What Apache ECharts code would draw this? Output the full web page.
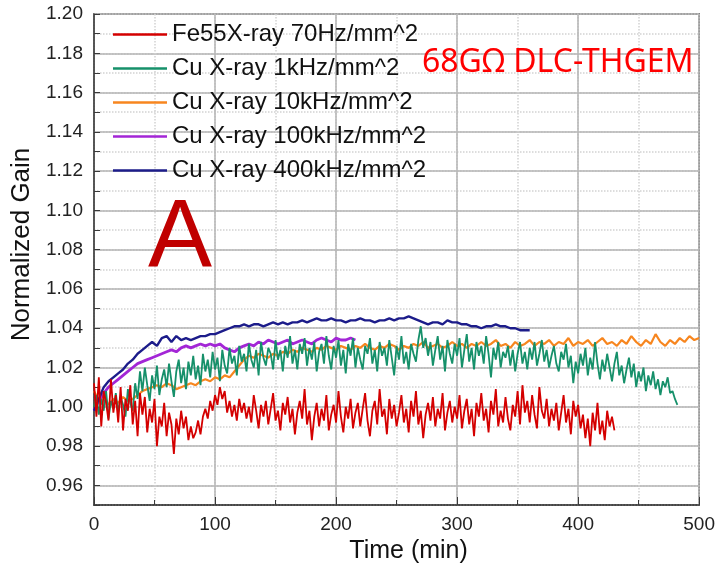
<!DOCTYPE html>
<html>
<head>
<meta charset="utf-8">
<title>Normalized Gain vs Time</title>
<script src="https://cdn.jsdelivr.net/npm/echarts@6/dist/echarts.min.js"></script>
<style>
    html, body { margin: 0; padding: 0; background: #fff; }
    #chart { width: 718px; height: 569px; }
</style>
</head>
<body>
<div id="chart"></div>
<script>
// 采样间隔 (min)
const fe55Step = 2;
const cu1kStep = 2;
const cu10kStep = 4;
const cu100kStep = 4;
const cu400kStep = 4;

const seriesNames = [
    'Fe55X-ray 70Hz/mm^2',
    'Cu X-ray 1kHz/mm^2',
    'Cu X-ray 10kHz/mm^2',
    'Cu X-ray 100kHz/mm^2',
    'Cu X-ray 400kHz/mm^2'
];
const seriesColors = ['#d40000', '#16906a', '#f7861f', '#a326d6', '#1c1c8a'];

// Fe55, t = 0..430
const fe55Gain = [
    1.012, 0.995, 1.015, 0.990, 1.008, 1.002, 0.993, 1.014, 0.997, 1.006,
    0.992, 1.010, 0.988, 1.004, 0.998, 1.011, 0.991, 1.003, 0.985, 1.007,
    0.996, 1.005, 0.987, 0.999, 0.992, 1.004, 0.980, 0.995, 0.990, 1.002,
    0.985, 0.997, 0.991, 0.976, 0.994, 0.986, 0.998, 0.989, 0.995, 0.983,
    0.990, 0.984, 0.987, 0.993, 0.986, 0.995, 0.999, 0.994, 1.003, 0.998,
    1.006, 1.001, 1.010, 1.004, 1.008, 0.997, 1.003, 0.995, 1.001, 0.993,
    1.004, 0.997, 1.002, 0.994, 1.000, 0.992, 1.006, 0.998, 0.989, 1.001,
    0.995, 1.003, 0.991, 0.999, 1.007, 0.993, 0.998, 0.988, 1.002, 0.996,
    1.005, 0.992, 0.999, 0.986, 0.997, 1.003, 0.994, 1.009, 0.991, 0.998,
    0.983, 0.995, 1.002, 0.990, 0.999, 0.993, 1.006, 0.988, 0.996, 1.001,
    0.992, 1.008, 0.995, 0.987, 1.000, 0.994, 1.004, 0.989, 0.997, 1.002,
    0.990, 0.999, 1.007, 0.993, 0.985, 0.998, 1.003, 0.991, 1.009, 0.995,
    0.999, 0.986, 1.004, 0.994, 1.001, 0.990, 0.997, 1.006, 0.992, 0.999,
    0.987, 1.003, 0.995, 1.008, 0.991, 0.998, 0.984, 0.996, 1.002, 0.993,
    1.005, 0.990, 0.999, 0.994, 1.007, 0.988, 0.997, 1.003, 0.992, 1.000,
    0.994, 1.006, 0.989, 0.998, 1.004, 0.991, 0.999, 0.985, 1.002, 0.995,
    1.007, 0.993, 0.999, 0.987, 1.003, 0.996, 1.009, 0.990, 0.998, 0.992,
    1.005, 0.994, 0.988, 1.001, 0.995, 1.008, 0.991, 1.011, 0.997, 1.003,
    0.992, 1.006, 0.996, 0.989, 1.010, 0.998, 0.994, 1.004, 0.990, 0.999,
    0.993, 1.002, 0.988, 0.997, 1.006, 0.992, 0.999, 0.986, 1.003, 0.995,
    1.001, 0.989, 0.996, 0.984, 0.994, 0.980, 0.997, 0.988, 1.002, 0.986,
    0.993, 0.983, 0.998, 0.990, 0.995, 0.988
];

// Cu 1kHz, t = 0..482
const cu1kGain = [
    1.000, 1.006, 0.996, 1.004, 0.998, 1.008, 0.994, 1.003, 0.999, 1.007,
    0.997, 1.005, 1.001, 0.995, 1.009, 1.002, 0.998, 1.012, 1.004, 1.018,
    1.008, 1.020, 1.011, 1.003, 1.016, 1.009, 1.021, 1.006, 1.014, 1.019,
    1.010, 1.022, 1.013, 1.005, 1.018, 1.024, 1.012, 1.020, 1.009, 1.023,
    1.016, 1.026, 1.014, 1.021, 1.011, 1.027, 1.018, 1.024, 1.015, 1.028,
    1.019, 1.025, 1.013, 1.029, 1.021, 1.017, 1.030, 1.022, 1.026, 1.016,
    1.031, 1.023, 1.027, 1.018, 1.032, 1.024, 1.020, 1.029, 1.016, 1.033,
    1.025, 1.021, 1.030, 1.027, 1.019, 1.034, 1.024, 1.029, 1.018, 1.031,
    1.025, 1.036, 1.022, 1.029, 1.019, 1.032, 1.027, 1.035, 1.021, 1.030,
    1.024, 1.033, 1.018, 1.028, 1.032, 1.022, 1.036, 1.026, 1.019, 1.031,
    1.025, 1.034, 1.021, 1.029, 1.017, 1.032, 1.026, 1.035, 1.020, 1.030,
    1.024, 1.019, 1.031, 1.027, 1.035, 1.022, 1.029, 1.018, 1.033, 1.026,
    1.030, 1.021, 1.034, 1.025, 1.016, 1.031, 1.024, 1.036, 1.022, 1.028,
    1.019, 1.032, 1.027, 1.023, 1.034, 1.041, 1.030, 1.035, 1.026, 1.033,
    1.021, 1.029, 1.036, 1.024, 1.031, 1.018, 1.034, 1.027, 1.022, 1.032,
    1.026, 1.035, 1.020, 1.029, 1.037, 1.023, 1.030, 1.019, 1.033, 1.026,
    1.031, 1.022, 1.036, 1.027, 1.015, 1.030, 1.024, 1.033, 1.020, 1.028,
    1.025, 1.031, 1.021, 1.029, 1.018, 1.027, 1.033, 1.022, 1.028, 1.019,
    1.030, 1.024, 1.033, 1.021, 1.027, 1.034, 1.023, 1.029, 1.020, 1.026,
    1.031, 1.022, 1.018, 1.028, 1.024, 1.032, 1.020, 1.026, 1.012, 1.023,
    1.017, 1.027, 1.021, 1.030, 1.016, 1.025, 1.019, 1.033, 1.022, 1.014,
    1.024, 1.018, 1.027, 1.020, 1.013, 1.022, 1.028, 1.016, 1.021, 1.012,
    1.019, 1.025, 1.015, 1.022, 1.010, 1.018, 1.013, 1.020, 1.008, 1.016,
    1.011, 1.018, 1.009, 1.014, 1.006, 1.013, 1.010, 1.015, 1.007, 1.008,
    1.004, 1.001
];

// Cu 10kHz, t = 0..500
const cu10kGain = [
    1.008, 1.003, 1.006, 1.001, 1.004, 1.002, 1.005, 1.003, 1.004, 1.006,
    1.008, 1.009, 1.010, 1.011, 1.010, 1.012, 1.011, 1.009, 1.010, 1.011,
    1.012, 1.011, 1.013, 1.014, 1.013, 1.015, 1.014, 1.016, 1.015, 1.018,
    1.021, 1.024, 1.026, 1.025, 1.027, 1.026, 1.025, 1.027, 1.026, 1.028,
    1.027, 1.029, 1.028, 1.030, 1.029, 1.028, 1.030, 1.029, 1.031, 1.030,
    1.029, 1.031, 1.030, 1.029, 1.031, 1.030, 1.032, 1.030, 1.029, 1.031,
    1.030, 1.032, 1.031, 1.029, 1.031, 1.030, 1.032, 1.031, 1.033, 1.030,
    1.031, 1.032, 1.030, 1.031, 1.033, 1.031, 1.032, 1.030, 1.032, 1.031,
    1.033, 1.031, 1.032, 1.034, 1.031, 1.032, 1.030, 1.033, 1.031, 1.032,
    1.034, 1.031, 1.033, 1.032, 1.034, 1.031, 1.033, 1.032, 1.035, 1.031,
    1.033, 1.032, 1.034, 1.031, 1.033, 1.035, 1.032, 1.033, 1.031, 1.034,
    1.032, 1.036, 1.033, 1.031, 1.034, 1.032, 1.037, 1.033, 1.031, 1.034,
    1.032, 1.035, 1.033, 1.036, 1.034, 1.035
];

// Cu 100kHz, t = 0..216
const cu100kGain = [
    0.998, 1.003, 1.007, 1.010, 1.012, 1.014, 1.016, 1.018, 1.020, 1.022,
    1.023, 1.024, 1.025, 1.026, 1.027, 1.028, 1.029, 1.028, 1.030, 1.031,
    1.030, 1.031, 1.032, 1.031, 1.032, 1.031, 1.032, 1.030, 1.029, 1.028,
    1.030, 1.031, 1.032, 1.031, 1.033, 1.032, 1.034, 1.033, 1.032, 1.033,
    1.034, 1.032, 1.033, 1.034, 1.033, 1.032, 1.034, 1.035, 1.034, 1.033,
    1.035, 1.034, 1.034, 1.035, 1.034
];

// Cu 400kHz, t = 0..360
const cu400kGain = [
    0.998, 1.004, 1.010, 1.013, 1.015, 1.017, 1.019, 1.022, 1.024, 1.027,
    1.029, 1.031, 1.033, 1.031, 1.035, 1.036, 1.033, 1.036, 1.034, 1.035,
    1.034, 1.035, 1.036, 1.036, 1.037, 1.037, 1.038, 1.039, 1.040, 1.041,
    1.041, 1.042, 1.041, 1.042, 1.042, 1.041, 1.042, 1.043, 1.042, 1.043,
    1.042, 1.043, 1.043, 1.044, 1.043, 1.044, 1.045, 1.044, 1.044, 1.045,
    1.044, 1.044, 1.043, 1.044, 1.044, 1.045, 1.044, 1.044, 1.043, 1.044,
    1.044, 1.045, 1.044, 1.045, 1.045, 1.046, 1.045, 1.044, 1.043, 1.042,
    1.043, 1.043, 1.042, 1.044, 1.043, 1.043, 1.042, 1.042, 1.041, 1.041,
    1.040, 1.041, 1.041, 1.042, 1.041, 1.041, 1.040, 1.040, 1.039, 1.039,
    1.039
];

const gainData = [fe55Gain, cu1kGain, cu10kGain, cu100kGain, cu400kGain];
const timeSteps = [fe55Step, cu1kStep, cu10kStep, cu100kStep, cu400kStep];
const lineWidths = [1.8, 1.8, 2.2, 2.8, 2.4];
const seriesZ = [7, 6, 3, 4, 5];

const fontFamily = '"Liberation Sans", Arial, sans-serif';

var chart = echarts.init(document.getElementById('chart'));

var option = {
    animation: false,
    backgroundColor: '#fff',
    grid: {
        left: 94,
        right: 13,
        top: 14,
        bottom: 63,
        show: true,
        borderColor: '#3a3a3a',
        borderWidth: 1.5
    },
    legend: {
        orient: 'vertical',
        left: 108,
        top: 17,
        itemGap: 9,
        itemWidth: 54,
        itemHeight: 2.5,
        icon: 'rect',
        data: seriesNames,
        textStyle: {
            fontFamily: fontFamily,
            fontSize: 24,
            lineHeight: 25,
            color: '#111'
        }
    },
    xAxis: [{
        type: 'value',
        min: 0,
        max: 500,
        interval: 50,
        name: 'Time (min)',
        nameLocation: 'middle',
        nameGap: 34,
        nameTextStyle: {
            fontFamily: fontFamily,
            fontSize: 25,
            color: '#111',
            padding: [0, 0, 0, 24]
        },
        axisLine: { lineStyle: { color: '#3a3a3a', width: 1.5 } },
        axisTick: { inside: true, length: 5, lineStyle: { color: '#3a3a3a' } },
        axisLabel: {
            margin: 10,
            fontFamily: fontFamily,
            fontSize: 19,
            color: '#222',
            formatter: function (value) {
                return value % 100 === 0 ? String(value) : '';
            }
        },
        splitLine: { show: true, lineStyle: { color: '#d2d2d2', type: 'dotted', width: 1.5 } }
    }, {
        type: 'value',
        min: 0,
        max: 500,
        interval: 100,
        position: 'bottom',
        axisLine: { show: false },
        axisTick: { show: true, inside: true, length: 8, lineStyle: { color: '#3a3a3a' } },
        axisLabel: { show: false },
        splitLine: { show: true, lineStyle: { color: '#b4b4b4', type: 'solid', width: 1.5 } }
    }],
    yAxis: [{
        type: 'value',
        min: 0.95,
        max: 1.20,
        interval: 0.01,
        name: 'Normalized Gain',
        nameLocation: 'middle',
        nameGap: 57,
        nameTextStyle: {
            fontFamily: fontFamily,
            fontSize: 26,
            color: '#111',
            padding: [0, 0, 0, 30]
        },
        axisLine: { lineStyle: { color: '#3a3a3a', width: 1.5 } },
        axisTick: { inside: true, length: 6, lineStyle: { color: '#3a3a3a' } },
        axisLabel: {
            margin: 11,
            fontFamily: fontFamily,
            fontSize: 19,
            color: '#222',
            formatter: function (value) {
                var k = Math.round(value * 100);
                return (k % 2 === 0 && k >= 96) ? value.toFixed(2) : '';
            }
        },
        splitLine: { show: true, lineStyle: { color: '#d2d2d2', type: 'dotted', width: 1.5 } }
    }, {
        type: 'value',
        min: 0.95,
        max: 1.20,
        interval: 0.01,
        position: 'left',
        axisLine: { show: false },
        axisTick: { show: false },
        axisLabel: { show: false },
        splitLine: {
            show: true,
            // 偶数刻度画实线
            lineStyle: { color: ['rgba(0,0,0,0)', '#b4b4b4'], type: 'solid', width: 1.5 }
        }
    }],
    series: seriesNames.map(function (name, idx) {
        return {
            name: name,
            type: 'line',
            symbol: 'none',
            z: seriesZ[idx],
            color: seriesColors[idx],
            lineStyle: { width: lineWidths[idx], color: seriesColors[idx] },
            data: gainData[idx].map(function (v, i) {
                return [i * timeSteps[idx], v];
            })
        };
    }),
    graphic: [{
        type: 'text',
        left: 422,
        top: 47,
        z: 20,
        style: {
            text: '68GΩ DLC-THGEM',
            fontFamily: '"Noto Sans", sans-serif',
            fontSize: 32,
            fill: '#ff0000'
        }
    }, {
        type: 'text',
        left: 148,
        top: 192,
        z: 20,
        style: {
            text: 'A',
            fontFamily: fontFamily,
            fontSize: 96,
            fill: '#c00000'
        }
    }]
};

chart.setOption(option);
</script>
</body>
</html>
